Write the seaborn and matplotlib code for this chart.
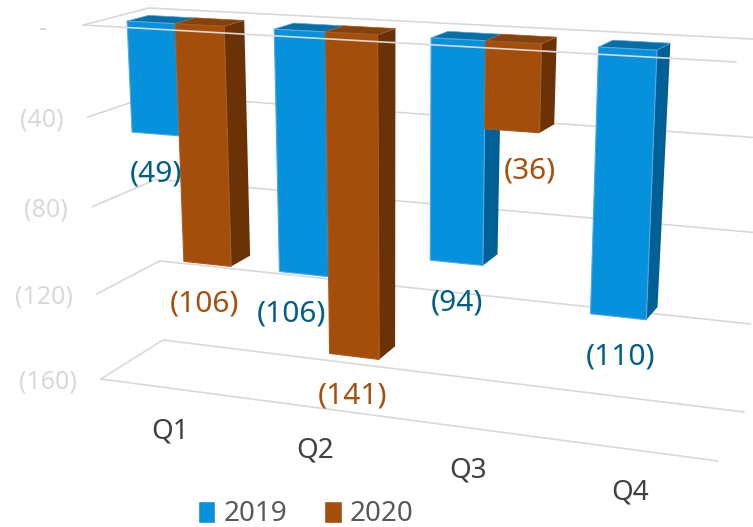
import numpy as np
import pandas as pd
import matplotlib
matplotlib.use("Agg")
import matplotlib.pyplot as plt
from matplotlib.transforms import Affine2D, Transform
import seaborn as sns

# data
quarters = ["Q1", "Q2", "Q3", "Q4"]
values_2019 = [-49, -106, -94, -110]
values_2020 = [-106, -141, -36, np.nan]
y_ticks = [0, -40, -80, -120, -160]
y_tick_labels = ["-", "(40)", "(80)", "(120)", "(160)"]

# colours: front, side, top, edge, label
BLUE = ("#0591DC", "#005F94", "#0A6EA6", "#55A6DE", "#005F8A")
BROWN = ("#A44E0C", "#6B3205", "#84420E", "#A85A1E", "#A84F0B")
GRID = "#D9D9D9"

W, H = 753, 527
DPI = 100

# corners of the chart box in pixels: (x0,0) (x1,0) (x1,-160) (x0,-160)
FRONT_BOX = [(83, 25), (736, 62), (718, 461), (101, 379)]
BACK_BOX = [(149, 8), (772, 40), (744, 412), (163, 340)]
X0, X1, V0, V1 = -0.5, 3.5, 0, -160
BAR_D0, BAR_D1 = 0.31, 0.64


def fit_homography(box):
    src = [(X0, V0), (X1, V0), (X1, V1), (X0, V1)]
    a, b = [], []
    for (x, v), (px, py) in zip(src, box):
        a.append([x, v, 1, 0, 0, 0, -px * x, -px * v])
        a.append([0, 0, 0, x, v, 1, -py * x, -py * v])
        b += [px, py]
    return np.append(np.linalg.solve(np.array(a, float), np.array(b, float)), 1).reshape(3, 3)


H_FRONT = fit_homography(FRONT_BOX)
H_BACK = fit_homography(BACK_BOX)


def project(x, v, d=0.0):
    """data x/value plus depth d (0 front, 1 back) -> pixel position"""
    pt = np.array([x, v, 1.0])
    a = H_FRONT @ pt
    b = H_BACK @ pt
    return (1 - d) * a[:2] / a[2] + d * b[:2] / b[2]


class Perspective(Transform):
    input_dims = 2
    output_dims = 2
    is_affine = False
    has_inverse = False

    def __init__(self, d):
        super().__init__()
        self.d = d

    def transform_non_affine(self, values):
        out = [project(x, v, self.d) for x, v in np.asarray(values)]
        out = np.array(out).reshape(-1, 2)
        out[:, 1] = H - out[:, 1]
        return out


sns.set_theme(style="white")
plt.rcParams["font.family"] = ["Noto Sans", "DejaVu Sans"]

df = pd.DataFrame({
    "quarter": quarters * 2,
    "year": ["2019"] * 4 + ["2020"] * 4,
    "value": values_2019 + values_2020,
})

fig, ax = plt.subplots(figsize=(W / DPI, H / DPI), dpi=DPI)
ax.set_position([0, 0, 1, 1])
sns.barplot(data=df, x="quarter", y="value", hue="year", order=quarters,
            palette={"2019": BLUE[0], "2020": BROWN[0]}, width=2 / 3,
            saturation=1, errorbar=None, ax=ax)
ax.set_xlim(X0, X1)
ax.set_ylim(V1, 40)

pixels = Affine2D().scale(1, -1).translate(0, H)
front_tf = Perspective(BAR_D0)


def grid_line(p, q, z=1):
    ax.plot([p[0], q[0]], [p[1], q[1]], color=GRID, lw=1.2, transform=pixels,
            zorder=z, solid_capstyle="round", clip_on=False)


# walls and floor
for v in y_ticks:
    grid_line(project(X0, v, 0), project(X0, v, 1))
    grid_line(project(X0, v, 1), project(X1, v, 1))
grid_line(project(X0, V1, 0), project(X1, V1, 0))

# bars painted left to right, side and top first
bars = []
for container, style in zip(ax.containers, (BLUE, BROWN)):
    for bar in container:
        if not np.isnan(bar.get_height()):
            bars.append((bar, style))
bars.sort(key=lambda b: b[0].get_x())

# shift of the data labels from the middle of the bar end, in pixels
label_shift = [0, -3, -12, -2, 0, 18, 2]

for i, (bar, style) in enumerate(bars):
    left, right = bar.get_x(), bar.get_x() + bar.get_width()
    value = bar.get_height()
    z = 3 + i

    side = [project(right, 0, BAR_D0), project(right, 0, BAR_D1),
            project(right, value, BAR_D1), project(right, value, BAR_D0)]
    top = [project(left, 0, BAR_D0), project(left, 0, BAR_D1),
           project(right, 0, BAR_D1), project(right, 0, BAR_D0)]
    ax.fill(*zip(*side), color=style[1], lw=0, transform=pixels, zorder=z)
    ax.fill(*zip(*top), facecolor=style[2], edgecolor=style[3], lw=0.5, transform=pixels, zorder=z)

    bar.set_transform(front_tf)
    bar.set_edgecolor(style[3])
    bar.set_linewidth(0.8)
    bar.set_zorder(z + 0.5)

    px, py = project((left + right) / 2, value, BAR_D0)
    ax.text(px + label_shift[i], py + 40, f"({-value:.0f})", color=style[4], fontsize=21.5,
            ha="center", va="center", transform=pixels, zorder=30)

# front line of the zero plane runs over the bars
grid_line(project(X0, V0, 0), project(X1, V0, 0), z=20)

# value axis labels
for v, label in zip(y_ticks, y_tick_labels):
    px, py = project(X0, v, 0)
    if label == "-":
        px -= 12
        py += 2
    ax.text(px - 24, py + 3, label, color=GRID, fontsize=18, ha="right", va="center",
            transform=pixels)

# category labels under the floor
tick_shift = [0, 1, 0, -2]
for i, q in enumerate(quarters):
    px, py = project(i, V1, 0)
    ax.text(px + tick_shift[i], py + 43, q, color="#404040", fontsize=20, ha="center",
            va="center", transform=pixels)

ax.set_axis_off()
sns.move_legend(ax, "center", bbox_to_anchor=(0.406, 0.024), ncol=2, title=None,
                frameon=False, fontsize=20, labelcolor="#595959", handlelength=0.62,
                handleheight=0.85, handletextpad=0.3, columnspacing=1.35,
                borderpad=0, borderaxespad=0)

fig.savefig("out.png", dpi=DPI)
